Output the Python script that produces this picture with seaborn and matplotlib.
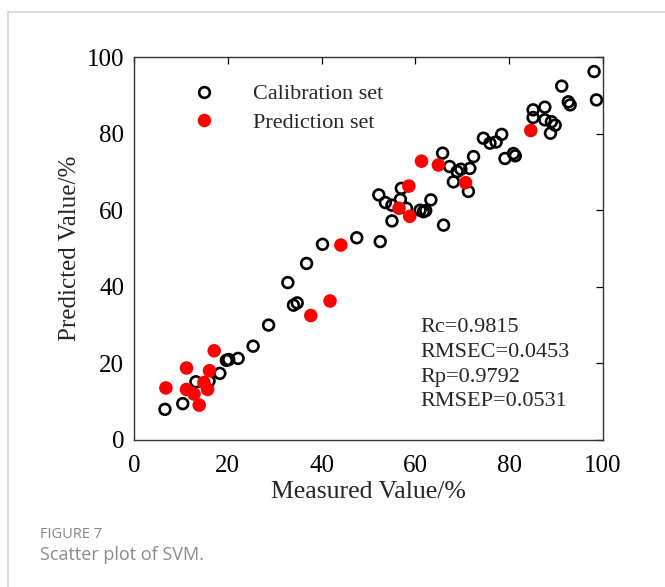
import numpy as np
import pandas as pd
import matplotlib
matplotlib.use("Agg")
import matplotlib.pyplot as plt
import seaborn as sns
from matplotlib.lines import Line2D

# ---- data ----
cal_measured = [6.6, 10.4, 13.2, 16.0, 18.3, 19.7, 20.2, 22.2, 25.4, 28.7,
                32.8, 34.0, 34.8, 36.8, 40.2, 47.5, 52.5, 52.2, 53.6, 55.0,
                55.0, 56.8, 57.0, 58.1, 61.0, 61.7, 62.2, 63.3, 66.0,
                65.8, 67.3, 68.9, 68.1, 69.7, 71.6, 72.4, 71.3, 74.5, 75.9,
                77.2, 78.4, 79.1, 80.9, 81.3, 85.1, 87.6, 85.1, 87.6, 89.0,
                89.8, 88.8, 91.2, 92.6, 93.0, 98.1, 98.6]
cal_predicted = [8.0, 9.5, 15.2, 15.4, 17.4, 20.8, 21.0, 21.3, 24.5, 30.0,
                 41.1, 35.2, 35.8, 46.1, 51.1, 52.8, 51.8, 64.0, 62.0, 57.2,
                 61.3, 62.8, 65.7, 60.5, 60.0, 59.6, 59.9, 62.7, 56.1,
                 74.9, 71.4, 70.1, 67.4, 70.7, 70.9, 74.0, 64.9, 78.8, 77.5,
                 77.8, 79.8, 73.5, 74.8, 74.2, 86.2, 86.9, 84.2, 83.6, 83.1,
                 82.2, 80.1, 92.4, 88.3, 87.5, 96.2, 88.8]
pred_measured = [6.8, 11.2, 11.2, 12.8, 13.9, 14.9, 15.7, 16.1, 17.1, 37.7,
                 41.8, 44.1, 56.5, 58.8, 58.6, 61.3, 64.9, 70.7, 84.6]
pred_predicted = [13.6, 18.8, 13.2, 12.0, 9.1, 15.0, 13.2, 18.1, 23.3, 32.5,
                  36.3, 50.9, 60.5, 58.4, 66.3, 72.8, 71.8, 67.2, 80.8]
set_labels = ["Calibration set", "Prediction set"]
stats_lines = ["Rc=0.9815", "RMSEC=0.0453", "Rp=0.9792", "RMSEP=0.0531"]
ticks = [0, 20, 40, 60, 80, 100]
x_label = "Measured Value/%"
y_label = "Predicted Value/%"
caption_head = "FIGURE 7"
caption_text = "Scatter plot of SVM."

cal_df = pd.DataFrame({"Measured": cal_measured, "Predicted": cal_predicted})
pred_df = pd.DataFrame({"Measured": pred_measured, "Predicted": pred_predicted})

sns.set_theme(style="white")
plt.rcParams["font.family"] = ["Liberation Serif", "DejaVu Serif"]

fig = plt.figure(figsize=(6.65, 5.87), dpi=100)
ax = fig.add_axes([134 / 665, 1 - 440 / 587, (603 - 134) / 665, (440 - 57) / 587])

sns.scatterplot(data=cal_df, x="Measured", y="Predicted", ax=ax,
                marker="o", s=60, facecolor="none", edgecolor="black",
                linewidth=1.9, zorder=3)
sns.scatterplot(data=pred_df, x="Measured", y="Predicted", ax=ax,
                marker="o", s=95, color="#ff0000", edgecolor="none",
                linewidth=0, zorder=4)

ax.set_xlim(0, 100)
ax.set_ylim(0, 100)
ax.set_xticks(ticks)
ax.set_yticks(ticks)
ax.set_xlabel(x_label, fontsize=18.5, labelpad=3)
ax.set_ylabel(y_label, fontsize=18, labelpad=4)
ax.tick_params(direction="in", length=5, width=0.9, top=True, right=True,
               labelsize=18, colors="black")
ax.tick_params(axis="x", pad=10.5)
ax.tick_params(axis="y", pad=7)
for sp in ax.spines.values():
    sp.set_visible(True)
    sp.set_color("#333333")
    sp.set_linewidth(1.0)

handles = [Line2D([], [], ls="none", marker="o", markersize=7.7,
                  markerfacecolor="none", markeredgecolor="black",
                  markeredgewidth=1.9),
           Line2D([], [], ls="none", marker="o", markersize=9.7,
                  markerfacecolor="#ff0000", markeredgecolor="none")]
ax.legend(handles, set_labels, loc="upper left",
          bbox_to_anchor=(0.107, 0.953), frameon=False, fontsize=16,
          handlelength=1.0, handletextpad=1.7, labelspacing=0.35,
          borderpad=0.4, borderaxespad=0)

for i, line in enumerate(stats_lines):
    ax.text(0.61, 0.281 - i * 0.0645, line, transform=ax.transAxes,
            fontsize=16, va="baseline", ha="left")

# caption card
fig.add_artist(Line2D([8 / 665, 8 / 665], [0, 1 - 12 / 587],
                      transform=fig.transFigure, color="#d6d6d6", lw=1.2))
fig.add_artist(Line2D([8 / 665, 1], [1 - 12 / 587, 1 - 12 / 587],
                      transform=fig.transFigure, color="#d6d6d6", lw=1.2))
fig.text(40 / 665, 1 - 534 / 587, caption_head, fontsize=10.5,
         family=["Open Sans", "DejaVu Sans"], color="#858585", va="center")
fig.text(40 / 665, 1 - 555 / 587, caption_text, fontsize=13,
         family=["Open Sans", "DejaVu Sans"], color="#8a8a8a", va="center")

fig.savefig("out.png", dpi=100)
